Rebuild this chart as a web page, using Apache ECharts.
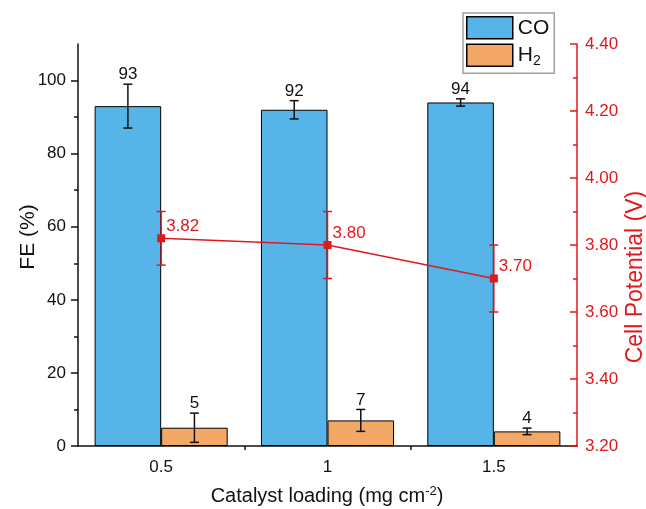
<!DOCTYPE html>
<html>
<head>
<meta charset="utf-8">
<script src="https://cdn.jsdelivr.net/npm/echarts@6/dist/echarts.min.js"></script>
<style>
  html, body { margin: 0; padding: 0; background: #fff; }
  #chart { width: 646px; height: 509px; }
</style>
</head>
<body>
<div id="chart"></div>
<script>
// Catalyst loading (mg cm^-2)
const categories = ['0.5', '1', '1.5'];

// Faradaic efficiency (%) with standard deviations
const coValues = [93, 92, 94];
const coErrors = [6, 2.5, 1];
const h2Values = [5, 7, 4];
const h2Errors = [4, 3, 0.9];

// Cell potential (V) with standard deviations
const potentialValues = [3.82, 3.80, 3.70];
const potentialErrors = [0.08, 0.10, 0.10];

// Axis ticks
const feTicks = [0, 20, 40, 60, 80, 100];
const feMinorTicks = [10, 30, 50, 70, 90];
const loadingMinorTicks = [1, 2];

const FONT = 'Liberation Sans, Arial, sans-serif';
const RED = '#E0191E';
const BLUE = '#56B4E8';
const ORANGE = '#F4A866';
const INK = '#111';

// Error bars (whiskers with caps); optionally prints the mean above the top cap.
function errorBars(values, errors, offsetFrac, color, yAxisIndex, withLabel) {
  return {
    type: 'custom',
    xAxisIndex: 0,
    yAxisIndex: yAxisIndex,
    z: 5,
    silent: true,
    encode: { x: 0, y: [1, 2] },
    data: values.map((v, i) => [i, v - errors[i], v + errors[i], v]),
    renderItem: function (params, api) {
      const i = api.value(0);
      const band = api.size([1, 0])[0];
      const lo = api.coord([i, api.value(1)]);
      const hi = api.coord([i, api.value(2)]);
      const x = lo[0] + band * offsetFrac;
      const cap = 4.5;
      const st = { stroke: color, lineWidth: 1.5 };
      const children = [
        { type: 'line', shape: { x1: x, y1: lo[1], x2: x, y2: hi[1] }, style: st },
        { type: 'line', shape: { x1: x - cap, y1: lo[1], x2: x + cap, y2: lo[1] }, style: st },
        { type: 'line', shape: { x1: x - cap, y1: hi[1], x2: x + cap, y2: hi[1] }, style: st }
      ];
      if (withLabel) {
        children.push({
          type: 'text',
          style: {
            text: String(api.value(3)),
            x: x,
            y: hi[1] - 1,
            align: 'center',
            verticalAlign: 'bottom',
            fontSize: 17,
            fontFamily: FONT,
            fill: INK
          }
        });
      }
      return { type: 'group', children: children };
    }
  };
}

const chart = echarts.init(document.getElementById('chart'), null, { renderer: 'canvas' });

chart.setOption({
  backgroundColor: '#fff',
  animation: false,
  textStyle: { fontFamily: FONT },
  grid: { left: 78, right: 69, top: 44, bottom: 63 },
  legend: {
    data: ['CO', 'H2'],
    left: 463,
    top: 13,
    orient: 'vertical',
    icon: 'rect',
    itemWidth: 46,
    itemHeight: 22,
    itemGap: 4,
    padding: [3, 5, 5, 3],
    borderColor: '#a0a0a0',
    borderWidth: 1.5,
    backgroundColor: '#fff',
    itemStyle: { borderColor: '#000', borderWidth: 1.5 },
    formatter: function (name) {
      return name === 'H2' ? 'H{sub|2}' : name;
    },
    textStyle: {
      fontSize: 21,
      fontFamily: FONT,
      color: INK,
      rich: {
        sub: { fontSize: 14, fontFamily: FONT, color: INK, verticalAlign: 'bottom', padding: [12, 0, 0, 0] }
      }
    }
  },
  xAxis: [
    {
      type: 'category',
      data: categories,
      position: 'bottom',
      axisLine: { lineStyle: { color: INK, width: 1.5 } },
      axisTick: { alignWithLabel: true, length: 6, lineStyle: { color: INK, width: 1.5 } },
      axisLabel: { fontSize: 17, color: INK, margin: 13, fontFamily: FONT },
      splitLine: { show: false }
    },
    {
      type: 'value',
      min: 0,
      max: 3,
      position: 'bottom',
      axisLine: { show: false },
      axisTick: { show: true, customValues: loadingMinorTicks, length: 4, lineStyle: { color: INK, width: 1.5 } },
      axisLabel: { show: false },
      splitLine: { show: false }
    }
  ],
  yAxis: [
    {
      type: 'value',
      min: 0,
      max: 110,
      interval: 20,
      position: 'left',
      axisLine: { show: true, lineStyle: { color: INK, width: 1.5 } },
      axisTick: { show: true, customValues: feTicks, length: 7, lineStyle: { color: INK, width: 1.5 } },
      axisLabel: { customValues: feTicks, fontSize: 17, color: INK, margin: 12, fontFamily: FONT },
      splitLine: { show: false }
    },
    {
      type: 'value',
      min: 0,
      max: 110,
      interval: 10,
      position: 'left',
      axisLine: { show: false },
      axisTick: { show: true, customValues: feMinorTicks, length: 4, lineStyle: { color: INK, width: 1.5 } },
      axisLabel: { show: false },
      splitLine: { show: false }
    },
    {
      type: 'value',
      min: 3.2,
      max: 4.4,
      interval: 0.2,
      position: 'right',
      axisLine: { show: true, lineStyle: { color: RED, width: 1.5 } },
      axisTick: { show: true, inside: true, length: 7, lineStyle: { color: RED, width: 1.5 } },
      minorTick: { show: true, splitNumber: 2, length: 4, lineStyle: { color: RED, width: 1.5 } },
      axisLabel: {
        fontSize: 17, color: RED, margin: 8, fontFamily: FONT,
        formatter: function (v) { return v.toFixed(2); }
      },
      splitLine: { show: false }
    }
  ],
  graphic: [
    {
      type: 'text',
      x: 28, y: 237,
      rotation: Math.PI / 2,
      style: { text: 'FE (%)', fontSize: 21, fontFamily: FONT, fill: INK, align: 'center', verticalAlign: 'middle' }
    },
    {
      type: 'text',
      x: 636, y: 277,
      rotation: Math.PI / 2,
      style: { text: 'Cell Potential (V)', fontSize: 23, fontFamily: FONT, fill: RED, align: 'center', verticalAlign: 'middle' }
    },
    {
      type: 'text',
      x: 327, y: 496,
      style: {
        text: 'Catalyst loading (mg cm{sup|-2})',
        fontSize: 20, fontFamily: FONT, fill: INK, align: 'center', verticalAlign: 'middle',
        rich: {
          sup: { fontSize: 13, fontFamily: FONT, fill: INK, verticalAlign: 'top', padding: [0, 0, 10, 0] }
        }
      }
    }
  ],
  series: [
    {
      name: 'CO',
      type: 'bar',
      xAxisIndex: 0,
      yAxisIndex: 0,
      data: coValues,
      barWidth: '40%',
      barGap: '0%',
      itemStyle: { color: BLUE, borderColor: '#000', borderWidth: 1 },
      z: 2
    },
    {
      name: 'H2',
      type: 'bar',
      xAxisIndex: 0,
      yAxisIndex: 0,
      data: h2Values,
      barWidth: '40%',
      barGap: '0%',
      itemStyle: { color: ORANGE, borderColor: '#000', borderWidth: 1 },
      z: 2
    },
    errorBars(coValues, coErrors, -0.2, INK, 0, true),
    errorBars(h2Values, h2Errors, 0.2, INK, 0, true),
    errorBars(potentialValues, potentialErrors, 0, RED, 2, false),
    {
      name: 'Cell potential',
      type: 'line',
      xAxisIndex: 0,
      yAxisIndex: 2,
      data: potentialValues,
      symbol: 'rect',
      symbolSize: 8,
      z: 6,
      itemStyle: { color: RED },
      lineStyle: { color: RED, width: 1.5 },
      label: {
        show: true,
        position: 'right',
        distance: 1,
        offset: [0, -12],
        fontSize: 17,
        fontFamily: FONT,
        color: RED,
        formatter: function (p) { return p.value.toFixed(2); }
      }
    }
  ]
});
</script>
</body>
</html>
